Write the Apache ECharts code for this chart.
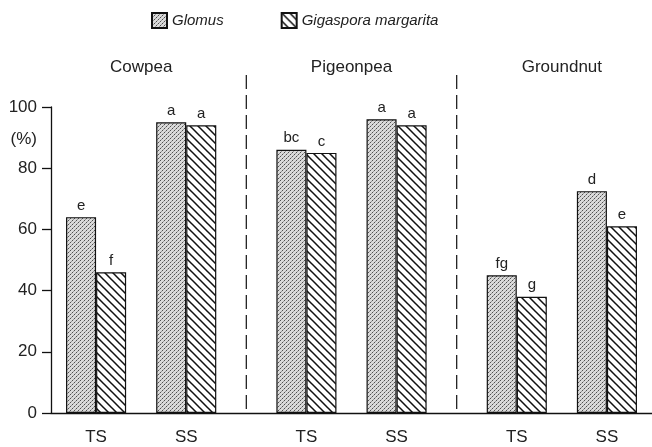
<!DOCTYPE html>
<html>
<head>
<meta charset="utf-8">
<script src="https://cdn.jsdelivr.net/npm/echarts/dist/echarts.min.js"></script>
<style>
  html, body { margin: 0; padding: 0; background: #fff; }
  #main { width: 652px; height: 447px; }
</style>
</head>
<body>
<div id="main"></div>
<script>
// data
var crops = ['Cowpea', 'Pigeonpea', 'Groundnut'];
var soils = ['TS', 'SS'];
var glomus = [64, 95, 86, 96, 45, 72.5];
var gigaspora = [46, 94, 85, 94, 38, 61];
var glomusLetters = ['e', 'a', 'bc', 'a', 'fg', 'd'];
var gigaLetters = ['f', 'a', 'c', 'a', 'g', 'e'];
var yTicks = [0, 20, 40, 60, 80, 100];

// slots on a fine category axis: 3 slots between TS and SS, 4 between crops
var nSlots = 20;
function slotOf(i, j) { return 1 + 7 * i + 3 * j; }

var categories = [], glomusData = [], gigaData = [], letterMap = {};
for (var k = 0; k < nSlots; k++) { categories.push(''); glomusData.push('-'); gigaData.push('-'); }
crops.forEach(function (c, i) {
    soils.forEach(function (s, j) {
        var n = i * soils.length + j, slot = slotOf(i, j);
        categories[slot] = s;
        glomusData[slot] = glomus[n];
        gigaData[slot] = gigaspora[n];
        letterMap[slot] = [glomusLetters[n], gigaLetters[n]];
    });
});

// fill patterns
function stipple() {
    var c = document.createElement('canvas');
    c.width = 4; c.height = 4;
    var ctx = c.getContext('2d');
    ctx.fillStyle = '#dadada';
    ctx.fillRect(0, 0, 4, 4);
    ctx.fillStyle = '#505050';
    ctx.fillRect(0, 0, 1, 1);
    ctx.fillRect(2, 2, 1, 1);
    ctx.fillStyle = '#999';
    ctx.fillRect(1, 3, 1, 1);
    ctx.fillRect(3, 1, 1, 1);
    return c;
}
function hatch() {
    var c = document.createElement('canvas');
    c.width = 8; c.height = 8;
    var ctx = c.getContext('2d');
    ctx.fillStyle = '#fff';
    ctx.fillRect(0, 0, 8, 8);
    ctx.strokeStyle = '#111';
    ctx.lineWidth = 1.5;
    ctx.beginPath();
    ctx.moveTo(-1, -1); ctx.lineTo(9, 9);
    ctx.moveTo(-1, 7); ctx.lineTo(1, 9);
    ctx.moveTo(7, -1); ctx.lineTo(9, 1);
    ctx.stroke();
    return c;
}

var font = 'Liberation Sans, Arial, sans-serif';
var chart = echarts.init(document.getElementById('main'), null, { renderer: 'canvas' });

var option = {
    backgroundColor: '#fff',
    animation: false,
    textStyle: { fontFamily: font },
    legend: {
        top: 7,
        left: 146,
        itemWidth: 15,
        itemHeight: 15,
        itemGap: 57,
        icon: 'rect',
        textStyle: { fontSize: 15, fontStyle: 'italic', color: '#222', fontFamily: font },
        data: ['Glomus', 'Gigaspora margarita']
    },
    grid: { left: 51, top: 107, width: nSlots * 30.3, bottom: 34 },
    xAxis: {
        type: 'category',
        data: categories,
        axisLine: { lineStyle: { color: '#111', width: 1.3 } },
        axisTick: { show: false },
        axisLabel: { fontSize: 17, color: '#222', margin: 16, interval: 0, fontFamily: font }
    },
    yAxis: {
        type: 'value',
        min: 0,
        max: 100,
        interval: 20,
        name: '(%)',
        nameLocation: 'end',
        nameGap: -32,
        nameTextStyle: { fontSize: 17, color: '#222', align: 'right', verticalAlign: 'middle', padding: [0, 14, 0, 0], fontFamily: font },
        splitLine: { show: false },
        axisLine: { show: true, lineStyle: { color: '#111', width: 1.3 } },
        axisTick: { show: true, length: 9, lineStyle: { color: '#111', width: 1.3 } },
        axisLabel: {
            fontSize: 17, color: '#222', margin: 14, fontFamily: font,
            formatter: function (v) { return yTicks.indexOf(v) >= 0 ? String(v) : ''; }
        }
    },
    series: [
        {
            name: 'Glomus',
            type: 'bar',
            data: glomusData,
            barWidth: '100%',
            barGap: '0%',
            itemStyle: { color: { image: stipple(), repeat: 'repeat' }, borderColor: '#111', borderWidth: 1.2 },
            label: {
                show: true, position: 'top', distance: 4, fontSize: 15, color: '#222', fontFamily: font,
                formatter: function (p) { return letterMap[p.dataIndex] ? letterMap[p.dataIndex][0] : ''; }
            }
        },
        {
            name: 'Gigaspora margarita',
            type: 'bar',
            data: gigaData,
            barWidth: '100%',
            barGap: '0%',
            itemStyle: { color: { image: hatch(), repeat: 'repeat' }, borderColor: '#111', borderWidth: 1.2 },
            label: {
                show: true, position: 'top', distance: 4, fontSize: 15, color: '#222', fontFamily: font,
                formatter: function (p) { return letterMap[p.dataIndex] ? letterMap[p.dataIndex][1] : ''; }
            }
        }
    ]
};
chart.setOption(option);

// crop headers and dashed dividers, placed from the axis scale
var graphics = [];
var y0 = chart.convertToPixel({ gridIndex: 0 }, [0, 0])[1];
crops.forEach(function (c, i) {
    var a = chart.convertToPixel({ gridIndex: 0 }, [slotOf(i, 0), 0])[0];
    var b = chart.convertToPixel({ gridIndex: 0 }, [slotOf(i, 1), 0])[0];
    graphics.push({
        type: 'text',
        x: (a + b) / 2,
        y: 67,
        style: { text: c, fontSize: 17, fill: '#222', fontFamily: font, textAlign: 'center', textVerticalAlign: 'middle' }
    });
    if (i > 0) {
        var x = chart.convertToPixel({ gridIndex: 0 }, [slotOf(i, 0) - 2, 0])[0];
        graphics.push({
            type: 'line',
            shape: { x1: x, y1: 75, x2: x, y2: y0 },
            style: { stroke: '#222', lineWidth: 1.3, lineDash: [14, 6] }
        });
    }
});
chart.setOption({ graphic: graphics });
</script>
</body>
</html>
